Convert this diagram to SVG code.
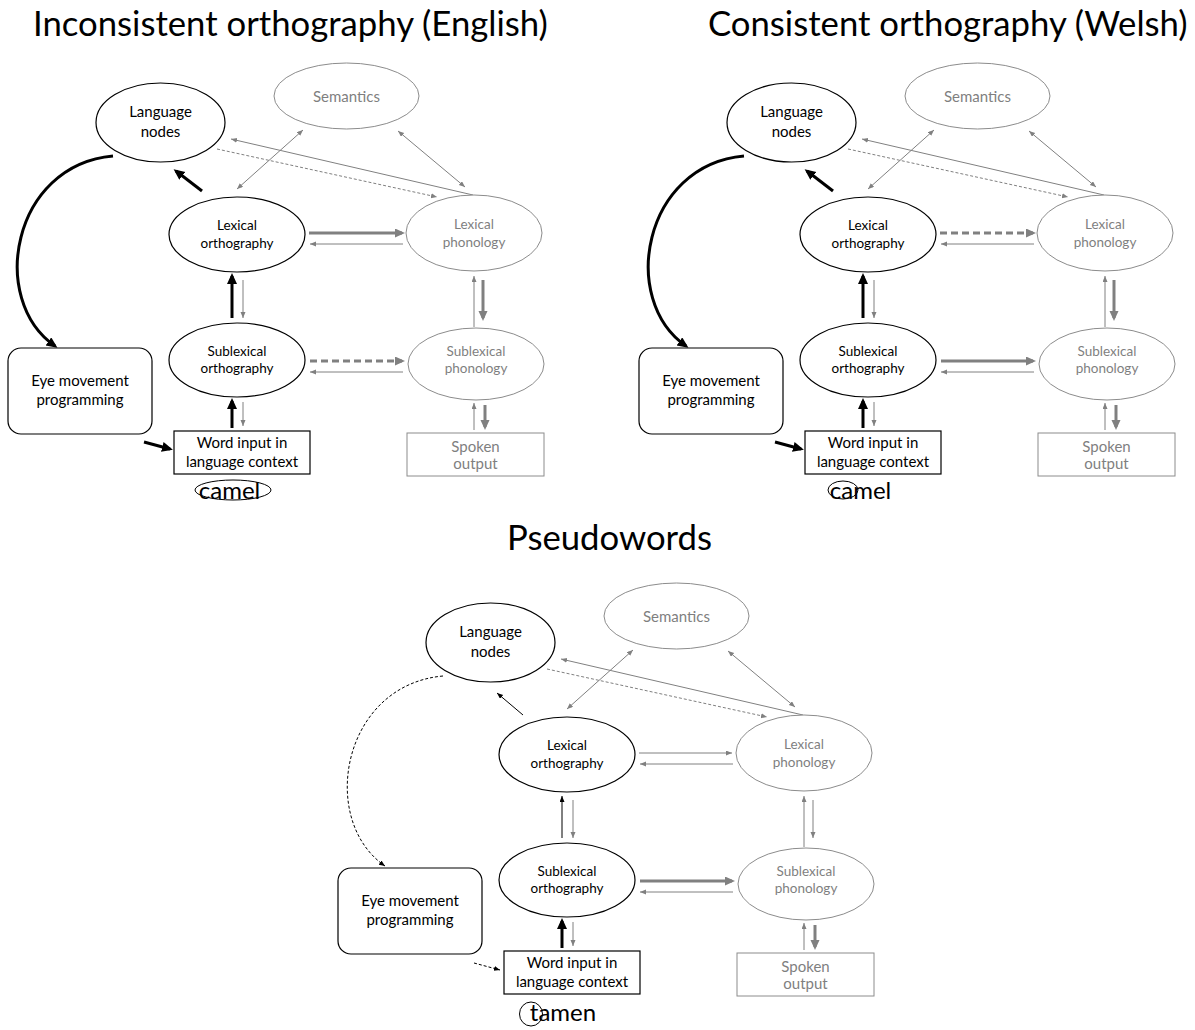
<svg xmlns="http://www.w3.org/2000/svg" width="1195" height="1030" viewBox="0 0 1195 1030">
<style>
text{font-family:Lato,"Liberation Sans",sans-serif;text-anchor:middle}
.title{font-size:34.7px;fill:#000;text-anchor:start}
.big{font-size:15px;fill:#000}
.sm{font-size:13.5px;fill:#000}
.gbig{font-size:15px;fill:#7f7f7f}
.gsm{font-size:13.5px;fill:#7f7f7f}
.word{font-size:24px;fill:#000}
.bk{fill:#fff;stroke:#000;stroke-width:1.2}
.gr{fill:#fff;stroke:#8c8c8c;stroke-width:1}
.ring{fill:none;stroke:#000;stroke-width:1}
.kT{stroke:#000;stroke-width:3;fill:none;marker-end:url(#mk)}
.kt{stroke:#000;stroke-width:1;fill:none;marker-end:url(#mks)}
.kd{stroke:#000;stroke-width:1;fill:none;stroke-dasharray:3,2;marker-end:url(#mks)}
.gT{stroke:#808080;stroke-width:3;fill:none;marker-end:url(#mg)}
.gTd{stroke:#808080;stroke-width:3;fill:none;stroke-dasharray:7,4;marker-end:url(#mg)}
.gt{stroke:#808080;stroke-width:1;fill:none;marker-end:url(#mgs)}
.gd{stroke:#808080;stroke-width:1;fill:none;stroke-dasharray:3,2;marker-end:url(#mgs)}
.g2{stroke:#808080;stroke-width:1;fill:none;marker-end:url(#mgs);marker-start:url(#mgs)}
</style>
<defs>
<marker id="mk" markerUnits="userSpaceOnUse" markerWidth="12" markerHeight="12" refX="8" refY="5" orient="auto"><path d="M0,0 L11,5 L0,10 z" fill="#000"/></marker>
<marker id="mks" markerUnits="userSpaceOnUse" markerWidth="8" markerHeight="8" refX="6" refY="2.5" orient="auto"><path d="M0,0 L6,2.5 L0,5 z" fill="#000"/></marker>
<marker id="mg" markerUnits="userSpaceOnUse" markerWidth="12" markerHeight="12" refX="7" refY="4.5" orient="auto"><path d="M0,0 L10,4.5 L0,9 z" fill="#808080"/></marker>
<marker id="mgs" markerUnits="userSpaceOnUse" markerWidth="8" markerHeight="8" refX="6" refY="2.5" orient="auto-start-reverse"><path d="M0,0 L6,2.5 L0,5 z" fill="#808080"/></marker>
</defs>

<text class="title" x="33" y="36">Inconsistent orthography (English)</text>
<text class="title" x="708" y="36">Consistent orthography (Welsh)</text>
<text class="title" x="507" y="550">Pseudowords</text>

<!-- Panel 1: English -->
<g id="panel-english">
<g id="p1-connectors">
<path class="kT" d="M202,191 L176,171"/>
<path class="kT" d="M113,156 C12,165 -12,300 55,346"/>
<path class="kT" d="M144,442 L170,449"/>
<path class="kT" d="M232,318 L232,276"/>
<path class="gt" d="M243,280 L243,318"/>
<path class="kT" d="M232,428 L232,401"/>
<path class="gt" d="M243,402 L243,426"/>
<path class="gT" d="M309,233 L402,233"/>
<path class="gt" d="M403,244 L310,244"/>
<path class="gTd" d="M310,361 L402,361"/>
<path class="gt" d="M403,372 L310,372"/>
<path class="gt" d="M474,327 L474,276"/>
<path class="gT" d="M483,280 L483,318"/>
<path class="gt" d="M474,430 L474,403"/>
<path class="gT" d="M485,405 L485,427"/>
<path class="g2" d="M237,189 L303,130"/>
<path class="g2" d="M398,131 L465,187"/>
<path class="gt" d="M473,195 L231,139"/>
<path class="gd" d="M217,149 L437,197"/>
</g>
<g id="p1-lang"><ellipse class="bk" cx="160.5" cy="122.5" rx="64.5" ry="39.5"/><text class="big" x="160.5" y="117">Language</text><text class="big" x="160.5" y="137">nodes</text></g>
<g id="p1-sem"><ellipse class="gr" cx="346.5" cy="96" rx="72.5" ry="33"/><text class="gbig" x="346.5" y="102">Semantics</text></g>
<g id="p1-lexorth"><ellipse class="bk" cx="237" cy="234.5" rx="68" ry="37.5"/><text class="sm" x="237" y="230">Lexical</text><text class="sm" x="237" y="248">orthography</text></g>
<g id="p1-lexphon"><ellipse class="gr" cx="474" cy="233" rx="68" ry="38"/><text class="gsm" x="474" y="229">Lexical</text><text class="gsm" x="474" y="247">phonology</text></g>
<g id="p1-subortho"><ellipse class="bk" cx="237" cy="360" rx="68" ry="37"/><text class="sm" x="237" y="356">Sublexical</text><text class="sm" x="237" y="373">orthography</text></g>
<g id="p1-subphon"><ellipse class="gr" cx="476" cy="364" rx="68" ry="36"/><text class="gsm" x="476" y="356">Sublexical</text><text class="gsm" x="476" y="373">phonology</text></g>
<g id="p1-eye"><rect class="bk" x="8" y="348" width="144" height="86" rx="13"/><text class="big" x="80" y="386">Eye movement</text><text class="big" x="80" y="405">programming</text></g>
<g id="p1-word"><rect class="bk" x="174" y="431" width="136" height="43"/><text class="big" x="242" y="448">Word input in</text><text class="big" x="242" y="467">language context</text></g>
<g id="p1-spoken"><rect class="gr" x="407" y="433" width="137" height="43"/><text class="gbig" x="475.5" y="452">Spoken</text><text class="gbig" x="475.5" y="469">output</text></g>
<g id="p1-stimulus"><text class="word" x="229.5" y="499">camel</text><ellipse class="ring" cx="233" cy="490" rx="38" ry="10"/></g>
</g>

<!-- Panel 2: Welsh -->
<g id="panel-welsh" transform="translate(631,0)">
<g id="p2-connectors">
<path class="kT" d="M202,191 L176,171"/>
<path class="kT" d="M113,156 C12,165 -12,300 55,346"/>
<path class="kT" d="M144,442 L170,449"/>
<path class="kT" d="M232,318 L232,276"/>
<path class="gt" d="M243,280 L243,318"/>
<path class="kT" d="M232,428 L232,401"/>
<path class="gt" d="M243,402 L243,426"/>
<path class="gTd" d="M309,233 L402,233"/>
<path class="gt" d="M403,244 L310,244"/>
<path class="gT" d="M310,361 L402,361"/>
<path class="gt" d="M403,372 L310,372"/>
<path class="gt" d="M474,327 L474,276"/>
<path class="gT" d="M483,280 L483,318"/>
<path class="gt" d="M474,430 L474,403"/>
<path class="gT" d="M485,405 L485,427"/>
<path class="g2" d="M237,189 L303,130"/>
<path class="g2" d="M398,131 L465,187"/>
<path class="gt" d="M473,195 L231,139"/>
<path class="gd" d="M217,149 L437,197"/>
</g>
<g id="p2-lang"><ellipse class="bk" cx="160.5" cy="122.5" rx="64.5" ry="39.5"/><text class="big" x="160.5" y="117">Language</text><text class="big" x="160.5" y="137">nodes</text></g>
<g id="p2-sem"><ellipse class="gr" cx="346.5" cy="96" rx="72.5" ry="33"/><text class="gbig" x="346.5" y="102">Semantics</text></g>
<g id="p2-lexorth"><ellipse class="bk" cx="237" cy="234.5" rx="68" ry="37.5"/><text class="sm" x="237" y="230">Lexical</text><text class="sm" x="237" y="248">orthography</text></g>
<g id="p2-lexphon"><ellipse class="gr" cx="474" cy="233" rx="68" ry="38"/><text class="gsm" x="474" y="229">Lexical</text><text class="gsm" x="474" y="247">phonology</text></g>
<g id="p2-subortho"><ellipse class="bk" cx="237" cy="360" rx="68" ry="37"/><text class="sm" x="237" y="356">Sublexical</text><text class="sm" x="237" y="373">orthography</text></g>
<g id="p2-subphon"><ellipse class="gr" cx="476" cy="364" rx="68" ry="36"/><text class="gsm" x="476" y="356">Sublexical</text><text class="gsm" x="476" y="373">phonology</text></g>
<g id="p2-eye"><rect class="bk" x="8" y="348" width="144" height="86" rx="13"/><text class="big" x="80" y="386">Eye movement</text><text class="big" x="80" y="405">programming</text></g>
<g id="p2-word"><rect class="bk" x="174" y="431" width="136" height="43"/><text class="big" x="242" y="448">Word input in</text><text class="big" x="242" y="467">language context</text></g>
<g id="p2-spoken"><rect class="gr" x="407" y="433" width="137" height="43"/><text class="gbig" x="475.5" y="452">Spoken</text><text class="gbig" x="475.5" y="469">output</text></g>
<g id="p2-stimulus"><text class="word" x="229.5" y="499">camel</text><ellipse class="ring" cx="212" cy="490" rx="15" ry="9"/></g>
</g>

<!-- Panel 3: Pseudowords -->
<g id="panel-pseudo" transform="translate(330,520)">
<g id="p3-connectors">
<path class="kt" d="M193,195 L167,173"/>
<path class="kd" d="M113,156 C12,165 -12,300 55,346"/>
<path class="kd" d="M144,443 L170,450"/>
<path class="kt" d="M232,318 L232,276"/>
<path class="gt" d="M243,280 L243,318"/>
<path class="kT" d="M232,428 L232,401"/>
<path class="gt" d="M243,402 L243,426"/>
<path class="gt" d="M309,233 L402,233"/>
<path class="gt" d="M403,244 L310,244"/>
<path class="gT" d="M310,361 L402,361"/>
<path class="gt" d="M403,372 L310,372"/>
<path class="gt" d="M474,327 L474,276"/>
<path class="gt" d="M483,280 L483,318"/>
<path class="gt" d="M474,430 L474,403"/>
<path class="gT" d="M485,405 L485,427"/>
<path class="g2" d="M237,189 L303,130"/>
<path class="g2" d="M398,131 L465,187"/>
<path class="gt" d="M473,195 L231,139"/>
<path class="gd" d="M217,149 L437,197"/>
</g>
<g id="p3-lang"><ellipse class="bk" cx="160.5" cy="122.5" rx="64.5" ry="39.5"/><text class="big" x="160.5" y="117">Language</text><text class="big" x="160.5" y="137">nodes</text></g>
<g id="p3-sem"><ellipse class="gr" cx="346.5" cy="96" rx="72.5" ry="33"/><text class="gbig" x="346.5" y="102">Semantics</text></g>
<g id="p3-lexorth"><ellipse class="bk" cx="237" cy="234.5" rx="68" ry="37.5"/><text class="sm" x="237" y="230">Lexical</text><text class="sm" x="237" y="248">orthography</text></g>
<g id="p3-lexphon"><ellipse class="gr" cx="474" cy="233" rx="68" ry="38"/><text class="gsm" x="474" y="229">Lexical</text><text class="gsm" x="474" y="247">phonology</text></g>
<g id="p3-subortho"><ellipse class="bk" cx="237" cy="360" rx="68" ry="37"/><text class="sm" x="237" y="356">Sublexical</text><text class="sm" x="237" y="373">orthography</text></g>
<g id="p3-subphon"><ellipse class="gr" cx="476" cy="364" rx="68" ry="36"/><text class="gsm" x="476" y="356">Sublexical</text><text class="gsm" x="476" y="373">phonology</text></g>
<g id="p3-eye"><rect class="bk" x="8" y="348" width="144" height="86" rx="13"/><text class="big" x="80" y="386">Eye movement</text><text class="big" x="80" y="405">programming</text></g>
<g id="p3-word"><rect class="bk" x="174" y="431" width="136" height="43"/><text class="big" x="242" y="448">Word input in</text><text class="big" x="242" y="467">language context</text></g>
<g id="p3-spoken"><rect class="gr" x="407" y="433" width="137" height="43"/><text class="gbig" x="475.5" y="452">Spoken</text><text class="gbig" x="475.5" y="469">output</text></g>
<g id="p3-stimulus"><text class="word" x="233" y="501">tamen</text><ellipse class="ring" cx="201" cy="494" rx="11.5" ry="12"/></g>
</g>
</svg>
